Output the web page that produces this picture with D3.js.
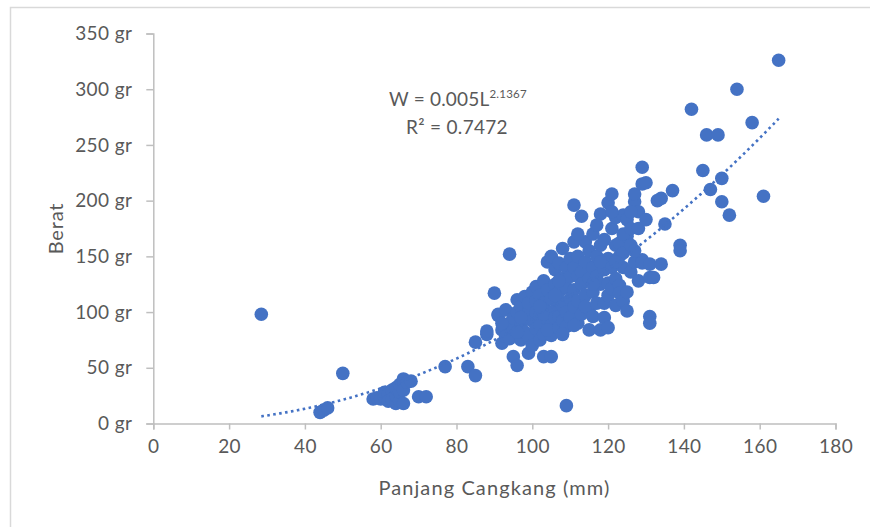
<!DOCTYPE html>
<html>
<head>
<meta charset="utf-8">
<script src="https://cdn.jsdelivr.net/npm/d3@7"></script>
<style>
  html, body { margin: 0; padding: 0; background: #fff; }
  svg { display: block; }
  text { font-family: Lato, "Open Sans", sans-serif; }
</style>
</head>
<body>
<svg id="chart" width="870" height="527"></svg>
<script>
// Shell length (mm) and weight (g) of each measured specimen
const panjang = [
  28.5, 44, 45, 46, 50,
  58, 59, 60, 61, 61, 62, 62, 63, 63, 64, 64, 64, 65, 65, 65, 66, 66, 67, 68, 66, 70, 72,
  77, 83, 85, 85, 88, 88, 90, 91,
  91, 92, 92, 93, 93, 94, 94, 94, 95, 95, 96, 95, 92,
  96, 96, 97, 97, 97, 98, 98, 98, 99, 99, 99, 99, 100, 100, 100, 97, 96,
  101, 101, 101, 101, 102, 102, 102, 102, 103, 103, 103, 103, 104, 104, 104, 104, 105, 105, 105, 105, 105, 103, 102, 104,
  106, 106, 106, 106, 107, 107, 107, 107, 107, 108, 108, 108, 108, 109, 109, 109, 109, 109, 110, 110, 110, 110, 108, 106, 107,
  111, 111, 111, 111, 111, 112, 112, 112, 112, 113, 113, 113, 113, 114, 114, 114, 115, 115, 115, 115, 111, 114, 112,
  116, 116, 116, 116, 117, 117, 117, 118, 118, 118, 118, 119, 119, 119, 119, 120, 120, 120, 120, 120, 117, 116, 118,
  121, 121, 121, 121, 122, 122, 122, 122, 123, 123, 123, 123, 124, 124, 124, 124, 125, 125, 125, 125, 121, 122, 124,
  126, 126, 126, 127, 127, 127, 128, 128, 128, 129, 129, 129, 129, 130, 130, 126, 127,
  131, 131, 131, 131, 132, 133, 134, 134, 135, 137, 139, 139,
  142, 145, 146, 147, 149, 150, 150, 152, 154, 158, 161, 165
];
const berat = [
  98, 10, 12, 14, 45,
  22, 23, 22, 24, 28, 26, 20, 30, 22, 18, 25, 32, 20, 28, 35, 40, 30, 37, 38, 18, 24, 24,
  51, 51, 43, 73, 80, 83, 117, 98,
  97, 72, 84, 102, 78, 76, 152, 90, 85, 60, 52, 95, 90,
  100, 111, 88, 75, 105, 114, 95, 82, 78, 63, 100, 108, 92, 70, 118, 95, 82,
  123, 110, 100, 85, 75, 96, 115, 88, 128, 108, 80, 60, 145, 100, 93, 120, 150, 79, 112, 88, 60, 98, 105, 84,
  138, 102, 125, 95, 96, 144, 110, 118, 86, 157, 106, 130, 92, 16, 87, 140, 100, 122, 132, 112, 95, 148, 80, 115, 128,
  196, 163, 120, 105, 140, 132, 90, 150, 110, 186, 136, 125, 98, 163, 115, 145, 102, 84, 130, 155, 88, 105, 170,
  96, 170, 140, 118, 132, 150, 108, 188, 160, 125, 84, 138, 108, 165, 95, 198, 126, 148, 115, 86, 178, 125, 145,
  121, 206, 140, 175, 185, 130, 160, 106, 162, 124, 150, 117, 187, 153, 140, 110, 183, 118, 101, 168, 190, 145, 170,
  136, 175, 160, 199, 206, 145, 175, 190, 128, 147, 144, 230, 215, 183, 216, 190, 155,
  143, 131, 96, 90, 131, 200, 143, 202, 179, 209, 160, 155,
  282, 227, 259, 210, 259, 220, 199, 187, 300, 270, 204, 326
];

// Power trendline W = a * L^b fitted over the length range
const trendA = 0.005;
const trendB = 2.1367;
const trendFrom = 28.5;
const trendTo = 165;
const trendLabel = "W = 0.005L";
const trendExponent = "2.1367";
const rSquaredLabel = "R² = 0.7472";

// Axis ticks and titles
const xTicks = [0, 20, 40, 60, 80, 100, 120, 140, 160, 180];
const yTicks = [0, 50, 100, 150, 200, 250, 300, 350];
const yUnit = " gr";
const xTitle = "Panjang Cangkang (mm)";
const yTitle = "Berat";

const svg = d3.select("#chart");
const blue = "#4472C4";
const axisGrey = "#BFBFBF";
const labelGrey = "#595959";

// Chart frame
svg.append("rect")
  .attr("x", 10.5).attr("y", 7.5)
  .attr("width", 900).attr("height", 560)
  .attr("fill", "#fff")
  .attr("stroke", "#D9D9D9").attr("stroke-width", 1.5);

const x = d3.scaleLinear().domain([0, 180]).range([153.3, 835.5]);
const y = d3.scaleLinear().domain([0, 350]).range([423.5, 33.5]);

function styleTickText(sel) {
  sel.attr("fill", labelGrey).attr("font-size", 19)
    .attr("letter-spacing", 0.4)
    .style("font-family", "Lato, 'Open Sans', sans-serif");
}

// Y axis
const yAxis = svg.append("g")
  .attr("transform", `translate(${x(0)},0)`)
  .call(d3.axisLeft(y).tickValues(yTicks).tickSize(7).tickPadding(14)
    .tickFormat(d => d + yUnit));
yAxis.select(".domain").attr("stroke", axisGrey).attr("stroke-width", 1.5);
yAxis.selectAll(".tick line").attr("stroke", axisGrey).attr("stroke-width", 1.5);
yAxis.selectAll(".tick text").call(styleTickText);

// X axis
const xAxis = svg.append("g")
  .attr("transform", `translate(0,${y(0)})`)
  .call(d3.axisBottom(x).tickValues(xTicks).tickSize(6).tickPadding(10)
    .tickFormat(d3.format("d")));
xAxis.select(".domain").attr("stroke", axisGrey).attr("stroke-width", 1.5);
xAxis.selectAll(".tick line").attr("stroke", axisGrey).attr("stroke-width", 1.5);
xAxis.selectAll(".tick text").call(styleTickText);

// Axis titles
svg.append("text")
  .attr("x", (x(0) + x(180)) / 2).attr("y", 495)
  .attr("text-anchor", "middle")
  .attr("fill", labelGrey).attr("font-size", 20)
  .attr("letter-spacing", 1.1)
  .text(xTitle);

svg.append("text")
  .attr("transform", `translate(63,${(y(0) + y(350)) / 2}) rotate(-90)`)
  .attr("text-anchor", "middle")
  .attr("fill", labelGrey).attr("font-size", 20)
  .attr("letter-spacing", 0.8)
  .text(yTitle);

// Data points
const points = panjang.map((p, i) => ({ p, b: berat[i] }));
svg.append("g")
  .selectAll("circle")
  .data(points)
  .join("circle")
  .attr("cx", d => x(d.p))
  .attr("cy", d => y(d.b))
  .attr("r", 6.8)
  .attr("fill", blue);

// Dotted power trendline
const trendPts = d3.range(trendFrom, trendTo + 0.001, 0.5)
  .map(L => [L, trendA * Math.pow(L, trendB)]);
svg.append("path")
  .datum(trendPts)
  .attr("fill", "none")
  .attr("stroke", blue)
  .attr("stroke-width", 2.6)
  .attr("stroke-dasharray", "2.6,3.4")
  .attr("d", d3.line().x(d => x(d[0])).y(d => y(d[1])));

// Trendline equation and R²
const eq = svg.append("text")
  .attr("x", 389).attr("y", 106)
  .attr("fill", labelGrey).attr("font-size", 19)
  .attr("letter-spacing", 0.2);
eq.append("tspan").text(trendLabel);
eq.append("tspan")
  .attr("font-size", 11.5).attr("dy", -8)
  .text(trendExponent);

svg.append("text")
  .attr("x", 457).attr("y", 134)
  .attr("text-anchor", "middle")
  .attr("fill", labelGrey).attr("font-size", 19)
  .attr("letter-spacing", 0.3)
  .text(rSquaredLabel);
</script>
</body>
</html>
